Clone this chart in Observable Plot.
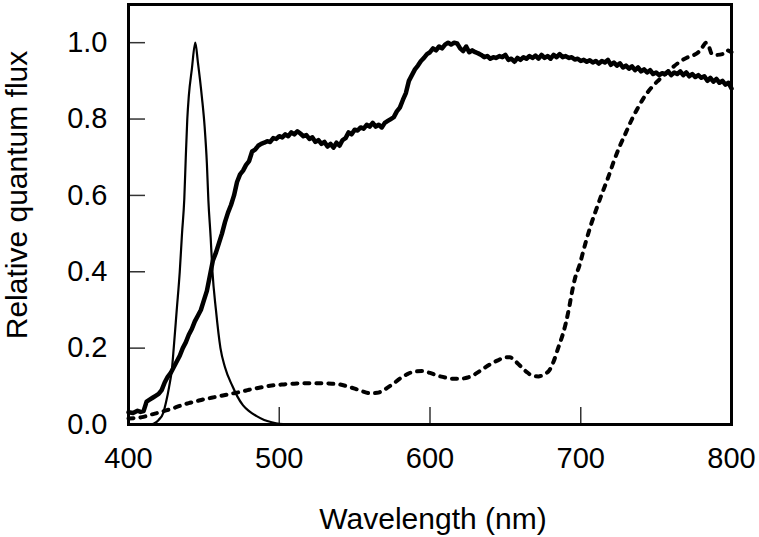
<!DOCTYPE html>
<html><head><meta charset="utf-8">
<script src="https://cdn.jsdelivr.net/npm/d3@7"></script>
<script src="https://cdn.jsdelivr.net/npm/@observablehq/plot@0.6"></script>
<style>body{margin:0;background:#fff}</style>
</head><body><div id="chart"></div>
<script>
const xTicks = [400, 500, 600, 700, 800];
const yTicks = [0, 0.2, 0.4, 0.6, 0.8, 1.0];
const xLabel = "Wavelength (nm)";
const yLabel = "Relative quantum flux";

// Narrow peak (thin solid line)
const peakWl = [400,414,416.6,420,423,425,427,428.8,430,432,434,435.5,437,438,439,440,442,444.3,446,448.7,450.5,452,453,454.5,455.7,458,461,464,469,472,476,480,485,490,495,500,510,520];
const peakVal = [0,0,0.002,0.012,0.03,0.06,0.1,0.145,0.2,0.3,0.4,0.5,0.59,0.7,0.8,0.86,0.93,1.0,0.95,0.857,0.78,0.683,0.586,0.49,0.4,0.3,0.2,0.15,0.1,0.075,0.05,0.035,0.022,0.012,0.006,0.002,0,0];

// Broad noisy spectrum (thick solid line)
const broadWl = [400,403,406,408,410,412,414,416,418,420,422,424,426,428,430,432,434,436,438,440,442,444,446,448,450,452,454,456,458,460,462,464,466,468,470,472,474,476,478,480,482,484,486,488,490,492,494,496,498,500,502,504,506,508,510,512,514,516,518,520,522,524,526,528,530,532,534,536,538,540,542,544,546,548,550,552,554,556,558,560,562,564,566,568,570,572,574,576,578,580,582,584,586,588,590,592,594,596,598,600,602,604,606,608,610,612,614,616,618,620,622,624,626,628,630,632,634,636,638,640,642,644,646,648,650,652,654,656,658,660,662,664,666,668,670,672,674,676,678,680,682,684,686,688,690,692,694,696,698,700,702,704,706,708,710,712,714,716,718,720,722,724,726,728,730,732,734,736,738,740,742,744,746,748,750,752,754,756,758,760,762,764,766,768,770,772,774,776,778,780,782,784,786,788,790,792,794,796,798,800];
const broadVal = [0.032,0.03,0.036,0.033,0.035,0.06,0.065,0.07,0.075,0.08,0.09,0.11,0.125,0.135,0.15,0.165,0.18,0.2,0.215,0.235,0.25,0.27,0.285,0.3,0.325,0.35,0.39,0.43,0.45,0.475,0.5,0.53,0.555,0.575,0.6,0.635,0.655,0.665,0.68,0.69,0.715,0.72,0.73,0.735,0.738,0.742,0.74,0.75,0.748,0.755,0.752,0.76,0.755,0.765,0.76,0.768,0.762,0.755,0.758,0.748,0.752,0.74,0.745,0.735,0.74,0.728,0.735,0.725,0.738,0.73,0.745,0.75,0.765,0.76,0.772,0.77,0.778,0.775,0.785,0.78,0.79,0.78,0.785,0.778,0.79,0.795,0.8,0.805,0.82,0.83,0.85,0.868,0.9,0.915,0.93,0.94,0.952,0.96,0.97,0.975,0.985,0.98,0.99,0.985,0.995,1.0,0.995,1.0,0.998,0.985,0.978,0.99,0.975,0.98,0.975,0.972,0.968,0.962,0.965,0.958,0.962,0.96,0.965,0.962,0.968,0.955,0.958,0.95,0.96,0.955,0.962,0.958,0.965,0.96,0.966,0.958,0.968,0.96,0.965,0.958,0.968,0.962,0.97,0.962,0.965,0.96,0.962,0.956,0.958,0.952,0.955,0.95,0.954,0.948,0.952,0.945,0.952,0.948,0.955,0.942,0.948,0.94,0.946,0.935,0.94,0.932,0.938,0.928,0.935,0.925,0.93,0.922,0.928,0.918,0.922,0.915,0.92,0.918,0.925,0.915,0.922,0.918,0.925,0.915,0.922,0.912,0.918,0.91,0.915,0.908,0.912,0.9,0.908,0.898,0.905,0.895,0.9,0.89,0.895,0.88];

// Dashed spectrum
const dashWl = [400,405,410,415,420,425,430,435,440,445,450,455,460,465,470,475,480,485,490,495,500,505,510,515,520,525,530,535,540,545,550,555,560,565,570,575,580,585,590,595,600,605,610,615,620,625,630,635,640,645,650,653,656,660,664,668,672,676,679,682,685,688,690,692,694,696,699,703,707,710,714,718,722,726,730,734,738,742,747,752,756,760,765,770,774,778,781,783,785,787,790,794,797,800];
const dashVal = [0.016,0.017,0.02,0.026,0.031,0.037,0.043,0.05,0.056,0.061,0.066,0.07,0.074,0.078,0.082,0.086,0.091,0.095,0.099,0.102,0.104,0.106,0.107,0.108,0.108,0.108,0.108,0.107,0.105,0.1,0.094,0.087,0.082,0.083,0.092,0.105,0.12,0.132,0.139,0.14,0.135,0.128,0.123,0.12,0.12,0.123,0.132,0.145,0.158,0.168,0.176,0.176,0.168,0.153,0.138,0.128,0.126,0.132,0.141,0.165,0.2,0.235,0.264,0.3,0.343,0.38,0.415,0.473,0.526,0.56,0.604,0.645,0.69,0.73,0.765,0.8,0.83,0.857,0.883,0.903,0.918,0.932,0.948,0.96,0.966,0.975,0.99,1.0,0.99,0.97,0.968,0.97,0.98,0.975];

const zip = (a, b) => a.map((x, i) => ({wl: x, v: b[i]}));
const peak = zip(peakWl, peakVal);
const broad = zip(broadWl, broadVal);
const dash = zip(dashWl, dashVal);

const W = 759, H = 537, mL = 128, mR = 28, mT = 4, mB = 113;
const plotW = W - mL - mR, plotH = H - mT - mB;
const tickLen = 17;

const chart = Plot.plot({
  width: W, height: H,
  marginLeft: mL, marginRight: mR, marginTop: mT, marginBottom: mB,
  style: {fontFamily: "'Liberation Sans', Arial, sans-serif", background: "#fff", color: "#000", overflow: "visible"},
  x: {domain: [400, 800]},
  y: {domain: [0, 1.1]},
  marks: [
    Plot.axisX(xTicks, {tickSize: 0, tickPadding: 23, fontSize: 29, label: null}),
    Plot.axisY(yTicks, {tickSize: 0, tickPadding: 21, fontSize: 29, label: null, tickFormat: d3.format(".1f")}),
    // inward tick marks
    Plot.tickX(xTicks.slice(1, -1), {x: d => d, insetTop: plotH - tickLen, stroke: "#333", strokeWidth: 1.5}),
    Plot.tickY(yTicks.slice(1), {y: d => d, insetRight: plotW - tickLen, stroke: "#333", strokeWidth: 1.5}),
    Plot.line(peak, {x: "wl", y: "v", stroke: "#000", strokeWidth: 2.2, curve: "monotone-x"}),
    Plot.line(broad, {x: "wl", y: "v", stroke: "#000", strokeWidth: 4.5, strokeLinejoin: "round"}),
    Plot.line(dash, {x: "wl", y: "v", stroke: "#000", strokeWidth: 4, strokeDasharray: "5,7", strokeLinecap: "round", curve: "monotone-x"}),
    Plot.frame({stroke: "#000", strokeWidth: 3}),
    Plot.text([xLabel], {text: d => d, frameAnchor: "bottom", dy: 104, dx: 3, lineAnchor: "bottom", fontSize: 30}),
    Plot.text([yLabel], {text: d => d, frameAnchor: "left", textAnchor: "middle", rotate: -90, dx: -102, dy: -19.5, lineAnchor: "bottom", fontSize: 30})
  ]
});
document.getElementById("chart").appendChild(chart);
</script>
</body></html>
